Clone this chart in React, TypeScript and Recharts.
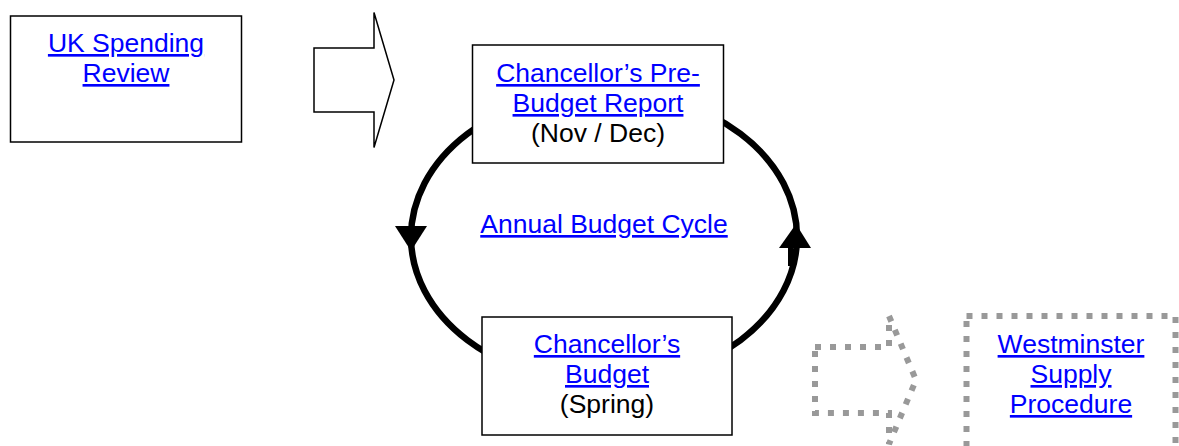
import React from "react"
import { ScatterChart, Scatter, XAxis, YAxis } from "recharts"

// diagram nodes
const nodeKeys = ["spendingReview", "preBudget", "cycle", "budget", "supply"]
const nodeLinkText = [
  ["UK Spending", "Review"],
  ["Chancellor’s Pre-", "Budget Report"],
  ["Annual Budget Cycle"],
  ["Chancellor’s", "Budget"],
  ["Westminster", "Supply", "Procedure"],
]
const nodeNoteText = ["", "(Nov / Dec)", "", "(Spring)", ""]
// node centres in diagram units
const nodeX = [126, 598, 604, 607, 1071]
const nodeY = [79, 104, 237, 376, 383]

// flow arrows between stages (tip in diagram units)
const arrowKeys = ["reviewToPreBudget", "budgetToSupply"]
const arrowTipX = [394, 916]
const arrowTipY = [80, 380]

const W = 1179
const H = 446
const LINK = "#0000FF"
const GREY = "#999999"
const FONT = "'Liberation Sans', Arial, sans-serif"
const FS = 26.5
const LH = 30

const boxLayout: Record<string, { w: number; h: number; textTop: number; dotted?: boolean }> = {
  spendingReview: { w: 231, h: 126, textTop: -27 },
  preBudget: { w: 251, h: 118, textTop: -22 },
  cycle: { w: 0, h: 0, textTop: -4 },
  budget: { w: 250, h: 118, textTop: -23 },
  supply: { w: 209, h: 134, textTop: -30, dotted: true },
}

const arrowLayout: Record<string, { len: number; shaft: number; head: number; headLen: number; dotted?: boolean }> = {
  reviewToPreBudget: { len: 80, shaft: 32, head: 67.5, headLen: 20 },
  budgetToSupply: { len: 101, shaft: 33, head: 64, headLen: 27, dotted: true },
}

const cycleLayout = { rx: 193, ry: 146 }

const nodes = nodeKeys.map((key, i) => ({
  key,
  x: nodeX[i],
  y: nodeY[i],
  link: nodeLinkText[i],
  note: nodeNoteText[i],
}))
const boxNodes = nodes.filter((n) => boxLayout[n.key].w > 0)
const cycleNode = nodes.filter((n) => n.key === "cycle")

const arrows = arrowKeys.map((key, i) => ({ key, x: arrowTipX[i], y: arrowTipY[i] }))

function BoxShape(props: any) {
  const { cx, cy, payload } = props
  const L = boxLayout[payload.key]
  return (
    <rect
      x={cx - L.w / 2}
      y={cy - L.h / 2}
      width={L.w}
      height={L.h}
      fill="#fff"
      stroke={L.dotted ? GREY : "#000"}
      strokeWidth={L.dotted ? 6 : 1.5}
      strokeDasharray={L.dotted ? "6 9" : undefined}
    />
  )
}

function LabelShape(props: any) {
  const { cx, cy, payload } = props
  const L = boxLayout[payload.key]
  const top = cy + L.textTop
  return (
    <g fontFamily={FONT} fontSize={FS} textAnchor="middle">
      {payload.link.map((t: string, i: number) => (
        <text key={i} x={cx} y={top + i * LH} fill={LINK} textDecoration="underline">
          {t}
        </text>
      ))}
      {payload.note ? (
        <text x={cx} y={top + payload.link.length * LH} fill="#000">
          {payload.note}
        </text>
      ) : null}
    </g>
  )
}

function CycleShape(props: any) {
  const { cx, cy } = props
  const { rx, ry } = cycleLayout
  const lx = cx - rx
  const rxx = cx + rx
  return (
    <g>
      <ellipse cx={cx} cy={cy} rx={rx} ry={ry} fill="none" stroke="#000" strokeWidth={6.5} />
      <polygon points={`${lx - 16},${cy - 11} ${lx + 16},${cy - 11} ${lx},${cy + 14}`} fill="#000" />
      <polygon points={`${rxx - 18},${cy + 11} ${rxx + 14},${cy + 11} ${rxx - 1},${cy - 13}`} fill="#000" />
      <rect x={rxx - 9} y={cy + 10} width={5} height={19} fill="#000" />
    </g>
  )
}

function ArrowShape(props: any) {
  const { cx, cy, payload } = props
  const A = arrowLayout[payload.key]
  const x0 = cx - A.len
  const xb = cx - A.headLen
  const pts = [
    [x0, cy - A.shaft],
    [xb, cy - A.shaft],
    [xb, cy - A.head],
    [cx, cy],
    [xb, cy + A.head],
    [xb, cy + A.shaft],
    [x0, cy + A.shaft],
  ]
    .map((p) => p.join(","))
    .join(" ")
  return (
    <polygon
      points={pts}
      fill="#fff"
      stroke={A.dotted ? GREY : "#000"}
      strokeWidth={A.dotted ? 6 : 1.5}
      strokeDasharray={A.dotted ? "6 9" : undefined}
      strokeLinejoin="miter"
    />
  )
}

export default function App() {
  return (
    <div style={{ width: W, height: H, background: "#fff" }}>
      <style>{"body{margin:0}"}</style>
      <ScatterChart width={W} height={H} margin={{ top: 0, right: 0, bottom: 0, left: 0 }}>
        <XAxis type="number" dataKey="x" domain={[0, W]} hide />
        <YAxis type="number" dataKey="y" domain={[0, H]} reversed hide />
        <Scatter data={cycleNode} shape={<CycleShape />} isAnimationActive={false} />
        <Scatter data={boxNodes} shape={<BoxShape />} isAnimationActive={false} />
        <Scatter data={arrows} shape={<ArrowShape />} isAnimationActive={false} />
        <Scatter data={nodes} shape={<LabelShape />} isAnimationActive={false} />
      </ScatterChart>
    </div>
  )
}
